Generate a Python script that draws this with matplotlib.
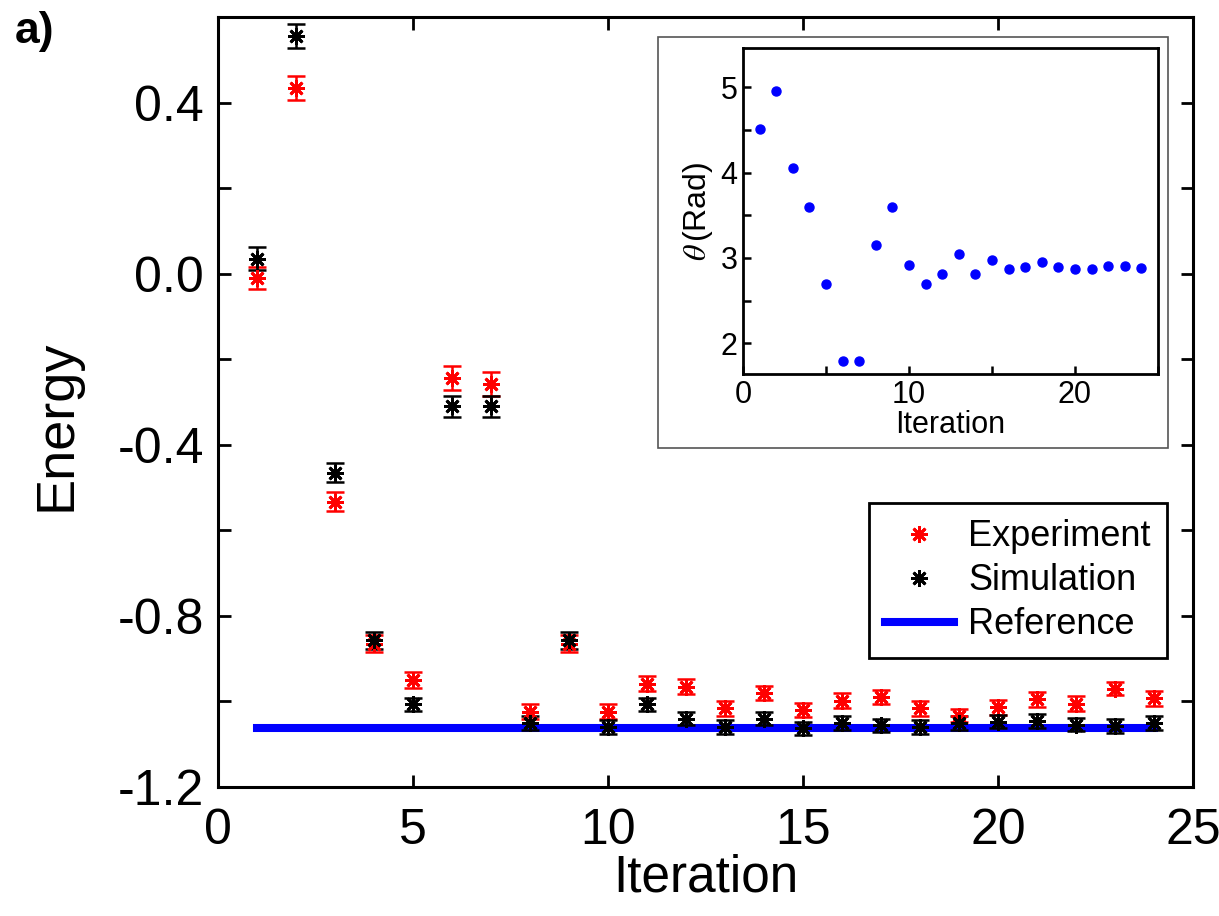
import matplotlib
matplotlib.use("Agg")
import matplotlib.pyplot as plt
from matplotlib.patches import Rectangle
from matplotlib.ticker import MultipleLocator

plt.rcParams["font.family"] = ["Liberation Sans", "DejaVu Sans"]
plt.rcParams["mathtext.fontset"] = "stix"

# main panel: energy per iteration
iteration = list(range(1, 25))
experiment = [-0.01, 0.435, -0.533, -0.865, -0.95, -0.243, -0.257, -1.024, -0.865, -1.024,
              -0.958, -0.965, -1.016, -0.98, -1.02, -0.998, -0.99, -1.016, -1.033, -1.014,
              -0.995, -1.005, -0.97, -0.993]
experiment_err = [0.025, 0.028, 0.022, 0.02, 0.018, 0.028, 0.028, 0.017, 0.02, 0.017,
                  0.017, 0.017, 0.017, 0.017, 0.017, 0.017, 0.017, 0.017, 0.015, 0.017,
                  0.017, 0.017, 0.016, 0.017]
simulation = [0.035, 0.556, -0.465, -0.857, -1.007, -0.31, -0.31, -1.05, -0.857, -1.06,
              -1.007, -1.04, -1.06, -1.04, -1.063, -1.05, -1.056, -1.06, -1.05, -1.047,
              -1.045, -1.054, -1.058, -1.05]
simulation_err = [0.027, 0.028, 0.022, 0.02, 0.016, 0.025, 0.025, 0.016, 0.02, 0.016,
                  0.016, 0.016, 0.016, 0.016, 0.016, 0.016, 0.016, 0.016, 0.016, 0.016,
                  0.016, 0.016, 0.016, 0.016]
reference_x = [1, 24]
reference_energy = -1.063

# inset: optimised angle per iteration
theta = [4.51, 4.96, 4.05, 3.60, 2.69, 1.79, 1.79, 3.15, 3.60, 2.92, 2.69, 2.81,
         3.04, 2.81, 2.98, 2.87, 2.89, 2.95, 2.89, 2.87, 2.87, 2.91, 2.91, 2.88]

fig = plt.figure(figsize=(12.19, 9.16), dpi=100)
ax = fig.add_axes([0.1788, 0.1408, 0.7999, 0.8406])

asterisk = (8, 2, 0)
ax.plot(reference_x, [reference_energy] * 2, color="#0000ff", lw=5.8, label="Reference", zorder=2)
ax.errorbar(iteration, experiment, yerr=experiment_err, fmt="none", ecolor="red",
            elinewidth=1.8, capsize=6.5, capthick=1.8, zorder=3)
ax.errorbar(iteration, simulation, yerr=simulation_err, fmt="none", ecolor="black",
            elinewidth=1.8, capsize=6.5, capthick=1.8, zorder=3)
ax.plot(iteration, experiment, ls="none", marker=asterisk, ms=12, mew=2, color="red",
        label="Experiment", zorder=4)
ax.plot(iteration, simulation, ls="none", marker=asterisk, ms=12, mew=2, color="black",
        label="Simulation", zorder=4)

ax.set_xlim(0, 25)
ax.set_ylim(-1.2, 0.6)
ax.set_xticks([0, 5, 10, 15, 20, 25])
ax.set_yticks([-1.2, -0.8, -0.4, 0.0, 0.4])
ax.set_yticklabels(["-1.2", "-0.8", "-0.4", "0.0", "0.4"])
ax.yaxis.set_minor_locator(MultipleLocator(0.2))
ax.tick_params(which="both", direction="in", top=True, right=True, length=9, width=2,
               labelsize=36)
ax.tick_params(axis="x", pad=15)
ax.tick_params(axis="y", pad=10)
for s in ax.spines.values():
    s.set_linewidth(2.2)
ax.set_xlabel("Iteration", fontsize=37, labelpad=0)
ax.set_ylabel("Energy", fontsize=39)
ax.yaxis.set_label_coords(-0.14, 0.47)

h, l = ax.get_legend_handles_labels()
order = [1, 2, 0]
leg = ax.legend([h[i] for i in order], [l[i] for i in order], loc="upper right",
                bbox_to_anchor=(0.973, 0.369), borderaxespad=0, fontsize=26,
                handlelength=1.9, handletextpad=0.4, labelspacing=0.25,
                borderpad=0.45, fancybox=False, framealpha=1, edgecolor="black")
leg.get_frame().set_linewidth(2)

fig.text(0.012, 0.966, "a)", fontsize=32, fontweight="bold", va="center", ha="left")

# inset frame and axes
fig.patches.append(Rectangle((658 / 1219, 1 - 448 / 916), 510 / 1219, 411 / 916,
                             transform=fig.transFigure, fill=False, edgecolor="#555555",
                             lw=1.2, zorder=5))
ins = fig.add_axes([0.6095, 0.5917, 0.3404, 0.356])
ins.plot(iteration, theta, ls="none", marker="o", ms=6.5, color="#0000ff")
ins.set_xlim(0, 25)
ins.set_ylim(1.64, 5.46)
ins.set_xticks([0, 10, 20])
ins.xaxis.set_minor_locator(MultipleLocator(5))
ins.set_yticks([2, 3, 4, 5])
ins.yaxis.set_minor_locator(MultipleLocator(0.5))
ins.tick_params(which="both", direction="in", length=6, width=1.8, labelsize=22, pad=4)
for s in ins.spines.values():
    s.set_linewidth(2)
ins.set_xlabel("Iteration", fontsize=22, labelpad=0)
ins.set_ylabel(r"$\theta\,$(Rad)", fontsize=23, labelpad=4)

fig.savefig("out.png", dpi=100)
